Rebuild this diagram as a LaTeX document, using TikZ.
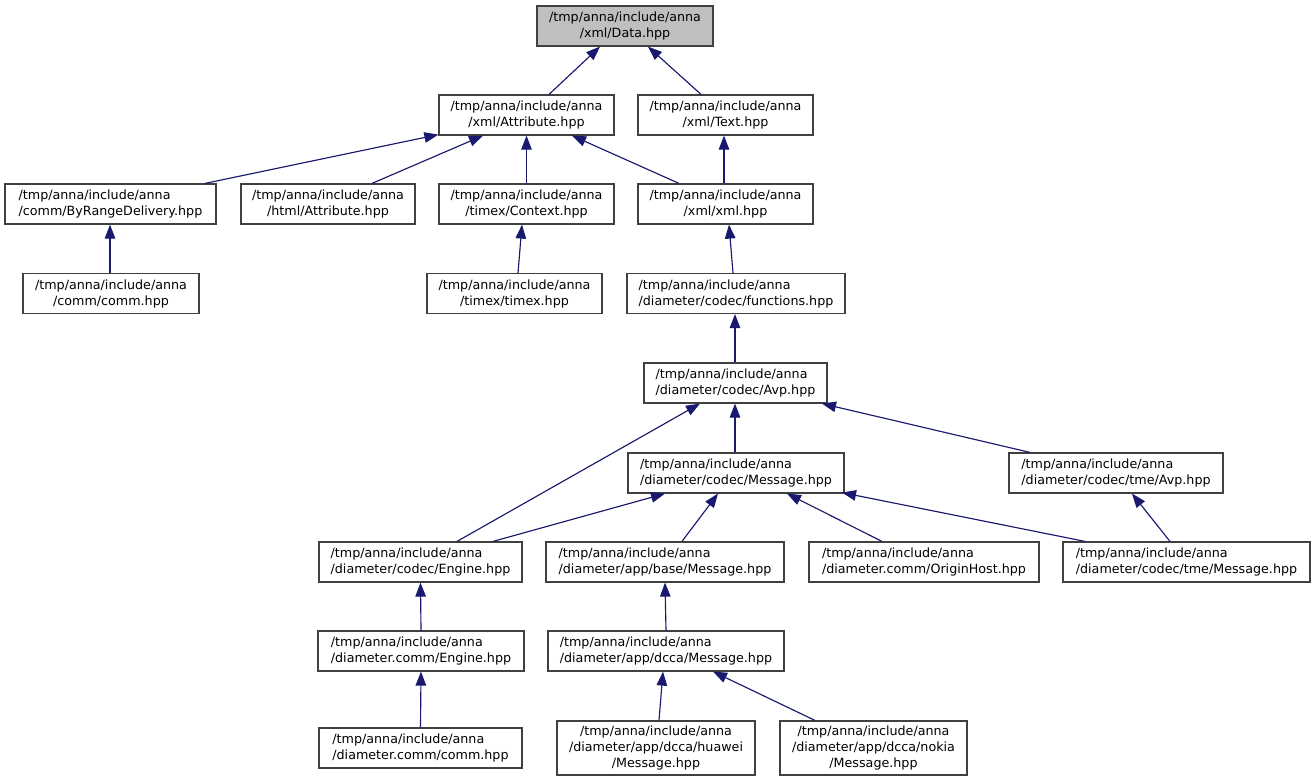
\documentclass[tikz,border=0pt]{standalone}
\usepackage{fontspec}
\setmainfont{DejaVu Sans}
\usetikzlibrary{arrows.meta}
\definecolor{edgec}{HTML}{191970}
\definecolor{boxc}{HTML}{404040}
\definecolor{datafill}{HTML}{BFBFBF}
\begin{document}
\begin{tikzpicture}[x=1pt,y=-1pt,
  nb/.style={draw=boxc, line width=1.2pt, fill=white, inner sep=0pt, align=center,
    font=\fontsize{12.7}{16}\selectfont},
  nl/.style={nb, align=left},
  edge/.style={draw=edgec, line width=1.15pt, -{Triangle[length=14pt,width=10.5pt]}, color=edgec}
]
\useasboundingbox[fill=white] (0,0) rectangle (1315,781);

\node[nb, fill=datafill, minimum width=176, minimum height=40] (data) at (625,26) {/tmp/anna/include/anna\\/xml/Data.hpp};
\node[nb, minimum width=175, minimum height=40] (xattr) at (526.5,115) {/tmp/anna/include/anna\\/xml/Attribute.hpp};
\node[nb, minimum width=175, minimum height=40] (text) at (725.5,115) {/tmp/anna/include/anna\\/xml/Text.hpp};
\node[nl, minimum width=211, minimum height=40] (byrange) at (110.5,204) {/tmp/anna/include/anna\\/comm/ByRangeDelivery.hpp};
\node[nb, minimum width=174, minimum height=40] (hattr) at (328,204) {/tmp/anna/include/anna\\/html/Attribute.hpp};
\node[nb, minimum width=175, minimum height=40] (ctx) at (526.5,204) {/tmp/anna/include/anna\\/timex/Context.hpp};
\node[nb, minimum width=175, minimum height=40] (xml) at (725.5,204) {/tmp/anna/include/anna\\/xml/xml.hpp};
\node[nb, minimum width=176, minimum height=40] (comm) at (111,293.5) {/tmp/anna/include/anna\\/comm/comm.hpp};
\node[nb, minimum width=175, minimum height=40] (timex) at (514.5,293.5) {/tmp/anna/include/anna\\/timex/timex.hpp};
\node[nl, minimum width=218, minimum height=40] (func) at (736,293.5) {/tmp/anna/include/anna\\/diameter/codec/functions.hpp};
\node[nl, minimum width=183, minimum height=40] (avp) at (735.5,383) {/tmp/anna/include/anna\\/diameter/codec/Avp.hpp};
\node[nl, minimum width=216, minimum height=40] (msg) at (736,473) {/tmp/anna/include/anna\\/diameter/codec/Message.hpp};
\node[nl, minimum width=214, minimum height=40] (tavp) at (1116,473) {/tmp/anna/include/anna\\/diameter/codec/tme/Avp.hpp};
\node[nl, minimum width=203, minimum height=40] (eng) at (420.5,562) {/tmp/anna/include/anna\\/diameter/codec/Engine.hpp};
\node[nl, minimum width=238, minimum height=40] (base) at (665,562) {/tmp/anna/include/anna\\/diameter/app/base/Message.hpp};
\node[nl, minimum width=230, minimum height=40] (orig) at (924,562) {/tmp/anna/include/anna\\/diameter.comm/OriginHost.hpp};
\node[nl, minimum width=247, minimum height=40] (tmsg) at (1186.5,562) {/tmp/anna/include/anna\\/diameter/codec/tme/Message.hpp};
\node[nl, minimum width=206, minimum height=40] (ceng) at (421,651) {/tmp/anna/include/anna\\/diameter.comm/Engine.hpp};
\node[nl, minimum width=236, minimum height=40] (dcca) at (666,651) {/tmp/anna/include/anna\\/diameter/app/dcca/Message.hpp};
\node[nl, minimum width=203, minimum height=40] (ccomm) at (420.5,748) {/tmp/anna/include/anna\\/diameter.comm/comm.hpp};
\node[nb, minimum width=198, minimum height=54] (huawei) at (656,748) {/tmp/anna/include/anna\\/diameter/app/dcca/huawei\\/Message.hpp};
\node[nb, minimum width=187, minimum height=54] (nokia) at (873.5,748) {/tmp/anna/include/anna\\/diameter/app/dcca/nokia\\/Message.hpp};

\draw[edge] ([xshift=22.5pt]xattr.north) -- ([xshift=-25pt]data.south);
\draw[edge] ([xshift=-24.5pt]text.north) -- ([xshift=23pt]data.south);
\draw[edge] ([xshift=94.5pt]byrange.north) -- ([yshift=1pt]xattr.south west);
\draw[edge] ([xshift=44pt]hattr.north) -- ([xshift=-43.5pt]xattr.south);
\draw[edge] (ctx.north) -- (xattr.south);
\draw[edge] ([xshift=-46.5pt]xml.north) -- ([xshift=45.5pt]xattr.south);
\draw[edge] ([xshift=-1.5pt]xml.north) -- ([xshift=-1.5pt]text.south);
\draw[edge] ([xshift=-1pt]comm.north) -- ([xshift=-0.5pt]byrange.south);
\draw[edge] ([xshift=3.5pt]timex.north) -- ([xshift=-4.5pt]ctx.south);
\draw[edge] ([xshift=-3pt]func.north) -- ([xshift=3.5pt]xml.south);
\draw[edge] ([xshift=-0.5pt]avp.north) -- ([xshift=-1pt]func.south);
\draw[edge] ([xshift=-1pt]msg.north) -- ([xshift=-0.5pt]avp.south);
\draw[edge] ([xshift=36.5pt]eng.north) -- ([xshift=-35.5pt]avp.south);
\draw[edge] ([xshift=-86pt]tavp.north) -- ([xshift=86.5pt]avp.south);
\draw[edge] ([xshift=72.5pt]eng.north) -- ([xshift=-71pt]msg.south);
\draw[edge] ([xshift=17pt]base.north) -- ([xshift=-18pt]msg.south);
\draw[edge] ([xshift=-42pt]orig.north) -- ([xshift=51pt]msg.south);
\draw[edge] ([xshift=-101.5pt]tmsg.north) -- ([xshift=106pt,yshift=1pt]msg.south);
\draw[edge] ([xshift=-16.5pt]tmsg.north) -- ([xshift=16pt]tavp.south);
\draw[edge] (ceng.north) -- (eng.south);
\draw[edge] (dcca.north) -- (base.south);
\draw[edge] (ccomm.north) -- (ceng.south);
\draw[edge] ([xshift=3pt]huawei.north) -- ([xshift=-3pt]dcca.south);
\draw[edge] ([xshift=-58.5pt]nokia.north) -- ([xshift=47pt]dcca.south);
\end{tikzpicture}
\end{document}
